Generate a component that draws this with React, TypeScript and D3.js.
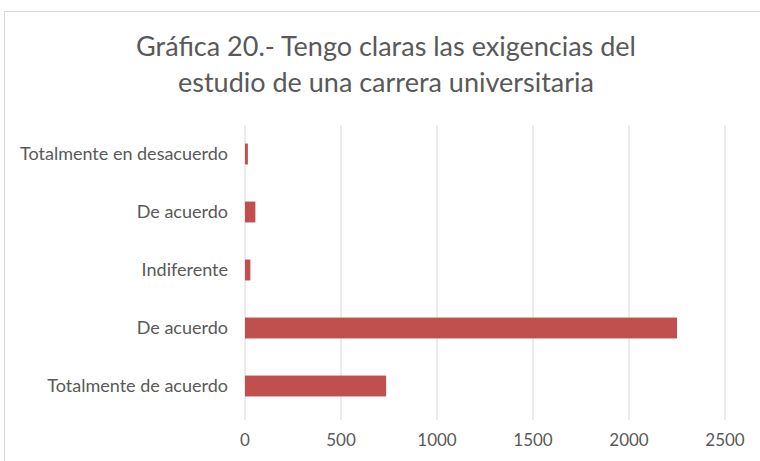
import { useMemo } from "react";
import * as d3 from "d3";

const categories = [
  "Totalmente en desacuerdo",
  "De acuerdo",
  "Indiferente",
  "De acuerdo",
  "Totalmente de acuerdo",
];
const values = [15, 54, 28, 2250, 735];
const ticks = [0, 500, 1000, 1500, 2000, 2500];
const titleLines = [
  "Gráfica 20.- Tengo claras las exigencias del",
  "estudio de una carrera universitaria",
];

const W = 760, H = 461;
const FONT = "Lato, 'Open Sans', sans-serif";
const TEXT = "#595959";

export default function App() {
  const x = useMemo(() => d3.scaleLinear().domain([0, 2500]).range([245, 725]), []);
  const y = useMemo(
    () => d3.scaleBand<number>().domain(d3.range(categories.length)).range([125, 415]).paddingInner(0.64).paddingOuter(0.32),
    []
  );
  return (
    <svg width={W} height={H} style={{ position: "absolute", left: 0, top: 0, fontFamily: FONT }}>
      <rect x={0} y={0} width={W} height={H} fill="#fff" />
      <rect x={4.5} y={11.5} width={W + 10} height={H + 10} fill="none" stroke="#d9d9d9" />
      {titleLines.map((t, i) => (
        <text key={i} x={386} y={56 + i * 36} textAnchor="middle" fontSize={27} fill={TEXT}>{t}</text>
      ))}
      {ticks.map(t => (
        <g key={t}>
          <line x1={x(t)} x2={x(t)} y1={125} y2={420} stroke="#d9d9d9" />
          <text x={x(t)} y={446} textAnchor="middle" fontSize={17} fill={TEXT}>{t}</text>
        </g>
      ))}
      {values.map((v, i) => (
        <rect key={i} x={x(0)} y={y(i)!} width={x(v) - x(0)} height={y.bandwidth()} fill="#C0504D" />
      ))}
      {categories.map((c, i) => (
        <text key={i} x={228} y={y(i)! + y.bandwidth() / 2} dy="0.35em" textAnchor="end" fontSize={18} fill={TEXT}>{c}</text>
      ))}
    </svg>
  );
}
